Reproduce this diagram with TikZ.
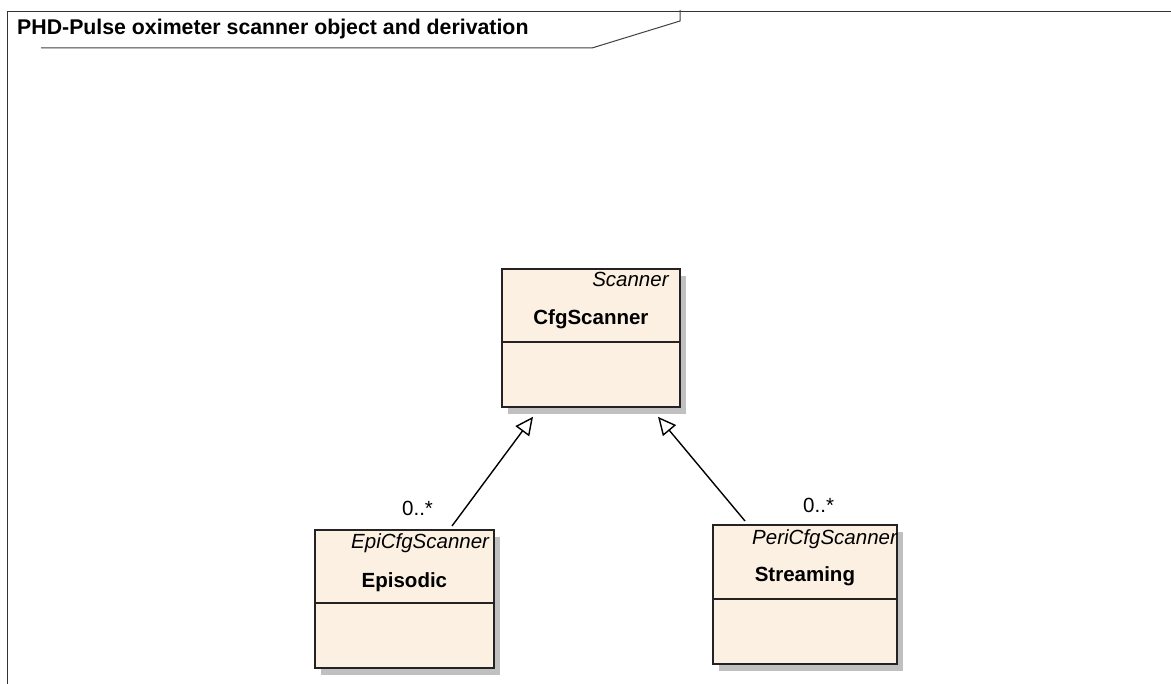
\documentclass[tikz,border=0pt]{standalone}
\usepackage{fontspec}
\setmainfont{Liberation Sans}
\usepackage{tikz}
\usetikzlibrary{shapes, arrows, arrows.meta, positioning, shadows}

\definecolor{classfill}{RGB}{251,240,226}
\definecolor{classline}{RGB}{35,35,35}
\definecolor{shadowgray}{RGB}{192,192,192}

\tikzset{
  classbox/.style={draw=classline, line width=1.8pt, fill=classfill, rectangle, inner sep=0pt, anchor=north west,
    drop shadow={shadow xshift=6pt, shadow yshift=-7pt, fill=shadowgray, opacity=1}},
  stereo/.style={font=\fontsize{20.5}{24}\itshape, inner sep=0pt, anchor=base west},
  cname/.style={font=\fontsize{20.5}{24}\bfseries, inner sep=0pt, anchor=base},
  mult/.style={font=\fontsize{20.5}{24}\selectfont, inner sep=0pt, anchor=base west},
  inherit/.style={draw=black, line width=1.4pt, -{Triangle[open, length=18pt, width=17pt, line width=1.4pt]}},
}

\begin{document}
\begin{tikzpicture}[x=1pt, y=-1pt]
    \useasboundingbox (0,0) rectangle (1171,684);

    % diagram frame and its name tab
    \draw[line width=1pt, black!80] (7,684) -- (7,12) -- (1171,12);
    \draw[line width=1pt, black!75] (41,48) -- (592,48) -- (680,21) -- (680,10);
    \node (title) [font=\fontsize{21.3}{25}\bfseries, inner sep=0pt, anchor=base west] at (17,35) {PHD-Pulse oximeter scanner object and derivation};

    % classes
    \node (cfg) [classbox, minimum width=178pt, minimum height=138pt] at (501,268) {};
    \node (epi) [classbox, minimum width=179pt, minimum height=138pt] at (314,529) {};
    \node (peri) [classbox, minimum width=184pt, minimum height=139pt] at (712,524) {};

    \foreach \cls/\cut in {cfg/74, epi/74, peri/75}
        \draw[classline, line width=1.6pt] ([yshift=-\cut pt]\cls.north west) -- ([yshift=-\cut pt]\cls.north east);

    \node (cfgst) [stereo, anchor=base east] at ([xshift=-12pt, yshift=-19pt]cfg.north east) {Scanner};
    \node (cfgname) [cname] at ([yshift=-57pt]cfg.north) {CfgScanner};

    \node (epist) [stereo] at ([xshift=37pt, yshift=-19pt]epi.north west) {EpiCfgScanner};
    \node (epiname) [cname] at ([yshift=-58pt]epi.north) {Episodic};

    \node (perist) [stereo] at ([xshift=40pt, yshift=-21pt]peri.north west) {PeriCfgScanner};
    \node (periname) [cname] at ([yshift=-58pt]peri.north) {Streaming};

    % generalizations
    \draw[inherit] ([xshift=138pt, yshift=3pt]epi.north west) -- ([xshift=32pt, yshift=-9pt]cfg.south west);
    \draw[inherit] ([xshift=33pt, yshift=3pt]peri.north west) -- ([xshift=157pt, yshift=-9pt]cfg.south west);

    \node (epimult) [mult] at ([xshift=88pt, yshift=13pt]epi.north west) {0..*};
    \node (perimult) [mult] at ([xshift=91pt, yshift=11pt]peri.north west) {0..*};
\end{tikzpicture}
\end{document}
